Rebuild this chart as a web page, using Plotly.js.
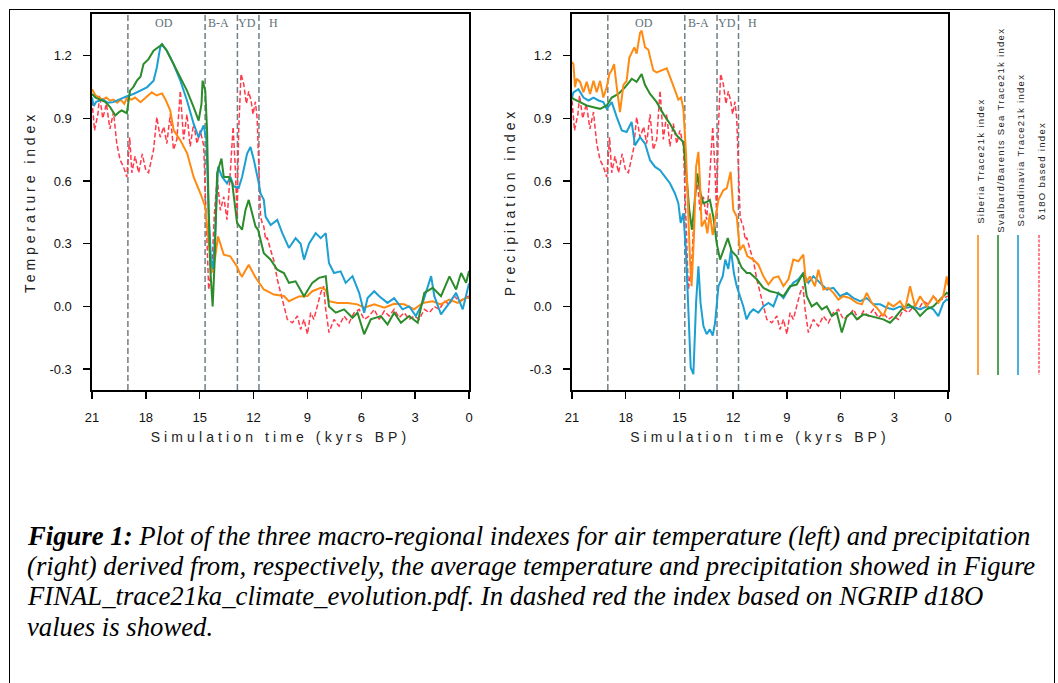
<!DOCTYPE html>
<html>
<head>
<meta charset="utf-8">
<script src="https://cdn.plot.ly/plotly-3.0.1.min.js"></script>
<style>
  html, body { margin: 0; padding: 0; background: #fff; }
  #wrap { position: relative; width: 1058px; height: 683px; overflow: hidden; }
  #chart { position: absolute; left: 0; top: 0; width: 1058px; height: 683px; }
  #frame { position: absolute; left: 9px; top: 9px; width: 1044px; height: 720px;
           border: 1.4px solid #000; border-bottom: none; pointer-events: none; }
  text.xtitle, text.x2title { letter-spacing: 4.1px; }
  text.ytitle, text.y2title { letter-spacing: 3.9px; }
  g.annotation[data-index="0"] text, g.annotation[data-index="1"] text,
  g.annotation[data-index="2"] text, g.annotation[data-index="3"] text { letter-spacing: 1.3px; }
</style>
</head>
<body>
<div id="wrap"><div id="chart"></div><div id="frame"></div></div>
<script>
// ---------- axis ticks ----------
const xTickVals = [21, 18, 15, 12, 9, 6, 3, 0];
const yTickVals = [-0.3, 0.0, 0.3, 0.6, 0.9, 1.2];
const yTickText = ["-0.3", "0.0", "0.3", "0.6", "0.9", "1.2"];

// ---------- period boundaries and labels (kyrs BP) ----------
const periodLines = [19.0, 14.7, 12.9, 11.7];
const periodLabels = ["OD", "B-A", "YD", "H"];
const periodLabelPos = [17.0, 13.95, 12.35, 10.9];

// ---------- series names ----------
const seriesNames = ["Siberia Trace21k index", "Svalbard/Barents Sea Trace21k index",
                     "Scandinavia Trace21k index", "\u03b418O based index"];

// ---------- Temperature: Siberia ----------
const tSibT = [21.0,20.8,20.6,20.4,20.2,20.0,19.8,19.6,19.4,19.2,19.06,18.8,18.6,18.3,18.0,17.67,17.4,17.1,16.9,16.64,16.45,16.08,15.7,15.34,14.97,14.69,14.5,14.31,14.13,13.98,13.66,13.3,12.92,12.73,12.64,12.27,11.9,11.43,11.05,10.87,10.31,10.03,9.47,9.0,8.73,8.26,7.98,7.8,7.33,6.77,6.21,5.84,5.28,4.72,4.17,3.61,3.05,2.58,2.02,1.58,1.1,0.63,0.17,0.0];
const vSibT = [1.04,1.01,1.0,0.99,1.0,0.985,0.99,0.975,0.99,0.97,1.0,0.99,1.0,0.978,1.0,1.025,1.01,1.02,0.99,0.938,0.843,0.795,0.733,0.62,0.543,0.478,0.304,0.162,0.24,0.335,0.248,0.24,0.19,0.152,0.144,0.2,0.14,0.081,0.065,0.057,0.05,0.025,0.048,0.05,0.073,0.089,0.08,0.025,0.017,0.017,0.01,-0.006,0.01,-0.006,0.013,0.01,-0.014,0.017,0.025,0.01,0.033,0.017,0.041,0.04];

// ---------- Temperature: Svalbard/Barents Sea ----------
const tSvaT = [21.0,20.8,20.55,20.27,19.99,19.7,19.5,19.34,19.06,18.88,18.7,18.5,18.3,18.13,17.85,17.57,17.2,17.1,16.83,16.46,16.08,15.71,15.34,15.06,14.9,14.84,14.69,14.59,14.5,14.41,14.28,14.17,14.03,13.79,13.66,13.38,13.19,12.92,12.64,12.45,12.27,12.08,11.89,11.75,11.43,11.05,10.68,10.31,10.03,9.66,9.19,8.73,8.36,7.98,7.8,7.42,6.96,6.49,6.21,5.84,5.47,4.91,4.54,4.17,3.79,3.33,2.86,2.49,2.02,1.56,1.09,0.72,0.44,0.16,0.0];
const vSvaT = [1.017,1.0,0.99,0.98,0.954,0.914,0.93,0.938,0.925,1.033,1.05,1.081,1.1,1.16,1.184,1.224,1.248,1.255,1.224,1.16,1.097,1.033,0.954,0.89,0.97,1.081,1.033,0.843,0.447,0.176,0.0,0.21,0.638,0.708,0.62,0.62,0.59,0.4,0.367,0.462,0.51,0.44,0.383,0.367,0.255,0.224,0.176,0.16,0.113,0.12,0.049,0.113,0.137,0.145,0.0,-0.03,-0.014,-0.054,-0.03,-0.133,-0.062,-0.046,-0.086,-0.03,-0.078,-0.046,-0.078,0.065,0.089,0.049,0.144,0.081,0.16,0.113,0.17];

// ---------- Temperature: Scandinavia ----------
const tScaT = [21.0,20.9,20.77,20.4,20.1,19.81,19.5,19.25,18.95,18.69,18.32,17.94,17.57,17.39,17.2,17.1,16.83,16.46,16.08,15.71,15.34,15.06,14.78,14.63,14.5,14.37,14.26,14.13,13.98,13.75,13.48,13.29,13.1,12.83,12.64,12.36,12.17,11.98,11.71,11.61,11.43,11.33,11.05,10.68,10.4,10.03,9.66,9.38,9.19,8.91,8.54,8.26,7.98,7.8,7.52,7.15,6.87,6.49,6.12,5.84,5.65,5.28,5.0,4.54,4.17,3.7,3.33,2.96,2.58,2.11,1.93,1.56,1.09,0.72,0.35,0.0];
const vScaT = [1.0,0.96,0.98,0.99,0.975,0.978,0.99,1.0,1.01,1.017,1.033,1.049,1.081,1.144,1.24,1.255,1.224,1.16,1.081,0.986,0.875,0.81,0.867,0.8,0.447,0.224,0.18,0.367,0.668,0.62,0.589,0.62,0.574,0.567,0.62,0.732,0.763,0.7,0.589,0.541,0.51,0.43,0.39,0.414,0.351,0.28,0.327,0.3,0.224,0.3,0.351,0.327,0.351,0.208,0.16,0.168,0.113,0.145,0.065,-0.03,0.04,0.073,0.049,0.017,0.04,-0.014,0.0,-0.046,0.017,0.145,0.049,-0.038,0.017,0.065,-0.014,0.11];

// ---------- NGRIP d18O based index (same in both panels) ----------
const tD18O = [21.0,20.86,20.67,20.58,20.4,20.2,20.0,19.8,19.62,19.43,19.25,19.06,18.9,18.78,18.6,18.4,18.2,18.0,17.85,17.57,17.39,17.2,17.0,16.83,16.64,16.46,16.27,16.08,15.9,15.71,15.53,15.34,15.15,14.97,14.78,14.69,14.59,14.5,14.31,14.18,14.03,13.85,13.66,13.48,13.29,13.14,13.01,12.92,12.83,12.7,12.55,12.4,12.27,12.14,12.03,11.9,11.8,11.71,11.61,11.52,11.43,11.33,11.24,11.05,10.87,10.68,10.4,10.12,9.84,9.56,9.38,9.19,9.0,8.82,8.64,8.45,8.26,8.1,7.98,7.8,7.52,7.24,6.96,6.68,6.4,6.12,5.84,5.56,5.28,5.0,4.72,4.45,4.17,3.89,3.61,3.33,3.05,2.77,2.49,2.21,1.93,1.65,1.37,1.09,0.82,0.54,0.26,0.0];
const vD18O = [0.986,0.843,0.92,1.01,0.9,0.97,0.85,0.93,0.78,0.7,0.67,0.62,0.81,0.64,0.72,0.64,0.73,0.65,0.64,0.75,0.906,0.81,0.86,0.78,0.92,0.75,0.8,1.033,0.8,0.92,0.766,0.875,0.78,0.843,0.77,0.525,0.24,0.08,0.208,0.447,0.62,0.46,0.525,0.415,0.65,0.86,0.65,0.43,0.84,1.113,1.065,0.97,1.03,0.985,0.92,0.98,0.9,0.62,0.43,0.4,0.383,0.32,0.33,0.27,0.22,0.13,0.03,-0.062,-0.078,-0.046,-0.11,-0.062,-0.133,-0.03,-0.062,0.0,0.065,0.097,-0.014,-0.125,-0.062,-0.094,-0.046,-0.078,-0.03,-0.014,-0.062,-0.046,-0.014,-0.062,-0.022,-0.046,-0.014,-0.054,-0.03,-0.062,-0.046,-0.062,-0.014,-0.03,0.0,-0.014,0.025,0.01,0.049,0.025,0.04,0.05];

// ---------- Precipitation: Siberia ----------
const tSibP = [21.0,20.92,20.83,20.74,20.55,20.36,20.18,19.99,19.8,19.62,19.43,19.25,19.06,18.91,18.78,18.65,18.5,18.32,18.13,17.95,17.8,17.67,17.52,17.39,17.2,17.11,16.92,16.74,16.46,16.27,15.99,15.71,15.53,15.25,15.06,14.91,14.78,14.63,14.5,14.41,14.32,14.19,14.07,13.94,13.85,13.76,13.57,13.44,13.3,13.14,13.01,12.82,12.55,12.36,12.14,11.99,11.8,11.62,11.43,11.2,10.87,10.59,10.31,10.03,9.75,9.47,9.19,8.91,8.64,8.36,8.08,7.93,7.71,7.43,7.24,6.96,6.68,6.4,6.12,5.84,5.47,5.09,4.81,4.54,4.26,3.98,3.61,3.33,3.05,2.68,2.4,2.12,1.84,1.56,1.19,0.82,0.54,0.26,0.07,0.0];
const vSibP = [1.17,1.16,1.05,1.09,1.075,1.025,1.075,1.017,1.08,1.025,1.08,1.0,1.05,1.113,1.13,1.16,1.05,0.93,1.06,1.08,1.19,1.21,1.24,1.21,1.31,1.32,1.24,1.23,1.13,1.12,1.13,1.14,1.1,1.03,0.99,1.0,0.946,0.73,0.414,0.224,0.097,0.335,0.668,0.74,0.59,0.383,0.414,0.35,0.446,0.342,0.414,0.51,0.556,0.565,0.644,0.462,0.43,0.27,0.295,0.24,0.224,0.2,0.144,0.105,0.137,0.144,0.097,0.13,0.224,0.216,0.248,0.113,0.144,0.097,0.176,0.081,0.089,0.065,0.033,0.049,0.04,0.017,0.01,0.065,0.017,-0.006,-0.046,0.017,0.0,0.025,-0.014,0.097,0.0,0.049,0.0,0.049,0.017,0.049,0.144,0.1];

// ---------- Precipitation: Svalbard/Barents Sea ----------
const tSvaP = [21.0,20.92,20.55,20.18,19.8,19.43,19.06,18.78,18.41,18.04,17.66,17.39,17.11,16.92,16.64,16.27,15.9,15.53,15.15,14.78,14.6,14.45,14.3,14.13,14.0,13.82,13.66,13.48,13.3,13.11,12.92,12.73,12.55,12.3,12.08,11.8,11.52,11.24,11.06,10.68,10.31,9.94,9.56,9.19,8.82,8.45,8.08,7.89,7.61,7.33,7.05,6.77,6.49,6.21,5.93,5.65,5.37,5.09,4.72,4.35,3.98,3.61,3.24,2.96,2.59,2.21,1.84,1.56,1.19,0.82,0.44,0.07,0.0];
const vSvaP = [1.0,0.994,0.978,0.962,0.954,0.946,0.962,1.0,1.017,1.049,1.09,1.075,1.113,1.06,1.017,0.978,0.922,0.875,0.819,0.787,0.62,0.462,0.367,0.51,0.637,0.541,0.494,0.5,0.51,0.43,0.303,0.224,0.27,0.327,0.264,0.24,0.185,0.16,0.16,0.13,0.089,0.073,0.065,0.049,0.097,0.105,0.16,0.049,0.0,0.017,-0.014,0.0,-0.046,-0.03,-0.125,-0.046,-0.03,-0.062,-0.038,-0.046,-0.054,-0.062,-0.078,-0.054,-0.014,0.01,-0.014,-0.046,-0.014,0.0,0.033,0.065,0.06];

// ---------- Precipitation: Scandinavia ----------
const tScaP = [21.0,20.92,20.64,20.36,20.08,19.8,19.52,19.25,19.06,18.78,18.5,18.22,17.95,17.67,17.48,17.2,16.92,16.64,16.36,16.08,15.8,15.53,15.25,15.06,14.93,14.78,14.63,14.5,14.37,14.22,14.07,13.94,13.82,13.66,13.48,13.3,13.14,13.01,12.82,12.58,12.44,12.27,12.12,11.96,11.8,11.62,11.43,11.25,11.06,10.87,10.59,10.31,10.03,9.75,9.47,9.19,8.91,8.64,8.36,8.08,7.8,7.52,7.15,6.77,6.4,6.03,5.65,5.28,4.91,4.54,4.17,3.79,3.42,3.05,2.68,2.3,1.93,1.56,1.19,0.82,0.54,0.26,0.07,0.0];
const vScaP = [1.0,1.025,1.04,1.0,0.986,1.0,0.986,0.978,0.946,0.978,0.906,0.843,0.835,0.883,0.771,0.81,0.78,0.7,0.668,0.652,0.62,0.59,0.541,0.494,0.4,0.446,0.255,-0.062,-0.292,-0.324,0.017,0.192,0.017,-0.094,-0.133,-0.11,-0.14,-0.078,0.097,0.145,0.224,0.18,0.27,0.16,0.097,0.05,0.0,-0.062,-0.03,-0.014,-0.03,0.0,0.017,0.0,0.065,0.04,0.081,0.113,0.13,0.16,0.113,0.145,0.113,0.081,0.089,0.049,0.065,0.04,0.025,0.04,0.01,0.01,-0.006,-0.014,0.0,-0.006,0.0,-0.014,0.0,-0.014,-0.046,0.017,0.033,0.03];

// ---------- caption ----------
const captionLines = [
  "<b>Figure 1:</b> Plot of the three macro-regional indexes for air temperature (left) and precipitation",
  "(right) derived from, respectively, the average temperature and precipitation showed in Figure",
  "FINAL_trace21ka_climate_evolution.pdf. In dashed red the index based on NGRIP d18O",
  "values is showed."
];

// ---------- styling ----------
const colors = ["#ff8a12", "#2a8c2a", "#1c9fd3", "#ff3a4a"];
const W = 1058, H = 683;
const px = v => v / W, py = v => 1 - v / H;

function mk(t, v, i, xa, ya) {
  const red = i === 3;
  return {
    x: t, y: v, type: "scatter", mode: "lines", name: seriesNames[i],
    xaxis: xa, yaxis: ya, showlegend: false, hoverinfo: "x+y",
    line: { color: colors[i], width: red ? 1.5 : 2, dash: red ? "5px,2.5px" : "solid" }
  };
}

const data = [
  mk(tD18O, vD18O, 3, "x", "y"),
  mk(tSibT, vSibT, 0, "x", "y"),
  mk(tScaT, vScaT, 2, "x", "y"),
  mk(tSvaT, vSvaT, 1, "x", "y"),
  mk(tD18O, vD18O, 3, "x2", "y2"),
  mk(tScaP, vScaP, 2, "x2", "y2"),
  mk(tSvaP, vSvaP, 1, "x2", "y2"),
  mk(tSibP, vSibP, 0, "x2", "y2")
];

const tickFont = { family: "Liberation Sans, Arial, sans-serif", size: 13, color: "#111" };
const titleFont = { family: "Liberation Sans, Arial, sans-serif", size: 14, color: "#222" };

function xax(domain) {
  return {
    domain: domain, range: [21, 0], showgrid: false, zeroline: false,
    showline: true, mirror: true, linecolor: "#000", linewidth: 1.6,
    ticks: "outside", ticklen: 7, tickwidth: 1.4, tickcolor: "#000",
    tickvals: xTickVals, ticktext: xTickVals.map(String), tickfont: tickFont,
    ticklabelstandoff: 8,
    title: { text: "Simulation time (kyrs BP)", font: titleFont, standoff: 8 }
  };
}
function yax(domain, anchor, title) {
  return {
    domain: domain, anchor: anchor, range: [-0.4, 1.4], showgrid: false, zeroline: false,
    showline: true, mirror: true, linecolor: "#000", linewidth: 1.6,
    ticks: "outside", ticklen: 7, tickwidth: 1.4, tickcolor: "#000",
    tickvals: yTickVals, ticktext: yTickText, tickfont: tickFont,
    ticklabelstandoff: 9,
    title: { text: title, font: titleFont, standoff: 10 }
  };
}

const yDom = [1 - 390 / H, 1 - 14 / H];

const shapes = [];
const annotations = [];

// legend (rotated labels + vertical sample lines)
const legX = [980, 1000, 1020, 1041];
seriesNames.forEach((n, i) => {
  annotations.push({
    xref: "paper", yref: "paper", x: px(legX[i]), y: py(212), text: n, showarrow: false,
    textangle: -90, xanchor: "center", yanchor: "bottom",
    font: { family: "Liberation Sans, Arial, sans-serif", size: 9.5, color: "#222" }
  });
  shapes.push({
    type: "line", xref: "paper", yref: "paper", x0: px(legX[i] - 2), x1: px(legX[i] - 2),
    y0: py(235), y1: py(375),
    line: { color: colors[i], width: i === 3 ? 1.3 : 1.6, dash: i === 3 ? "3px,1.5px" : "solid" }
  });
});

// period lines and labels for both panels
[["x", "y"], ["x2", "y2"]].forEach(([xa, ya]) => {
  periodLines.forEach(t => {
    shapes.push({
      type: "line", xref: xa, yref: ya + " domain", x0: t, x1: t, y0: 0, y1: 1,
      line: { color: "#6f7f86", width: 1.5, dash: "6px,3px" }, layer: "below"
    });
  });
  periodLabels.forEach((lab, i) => {
    annotations.push({
      xref: xa, yref: "paper", x: periodLabelPos[i], y: py(23), text: lab, showarrow: false,
      xanchor: "center", yanchor: "middle",
      font: { family: "Liberation Serif, Times New Roman, serif", size: 12, color: "#5f6f75" }
    });
  });
});

// caption
const capY = [536, 566, 596, 627];
captionLines.forEach((line, i) => {
  annotations.push({
    xref: "paper", yref: "paper", x: px(25), y: py(capY[i]), text: "<i>" + line + "</i>",
    showarrow: false, xanchor: "left", yanchor: "middle", align: "left",
    font: { family: "Liberation Serif, Times New Roman, serif", size: 26.7, color: "#000" }
  });
});

const layout = {
  width: W, height: H, margin: { l: 0, r: 0, t: 0, b: 0 },
  paper_bgcolor: "#fff", plot_bgcolor: "#fff", showlegend: false,
  xaxis: xax([px(92), px(469)]),
  yaxis: yax(yDom, "x", "Temperature index"),
  xaxis2: Object.assign(xax([px(572), px(948)]), { anchor: "y2" }),
  yaxis2: yax(yDom, "x2", "Precipitation index"),
  shapes: shapes, annotations: annotations
};
layout.xaxis.anchor = "y";

Plotly.newPlot("chart", data, layout, { staticPlot: true, displayModeBar: false });
</script>
</body>
</html>
